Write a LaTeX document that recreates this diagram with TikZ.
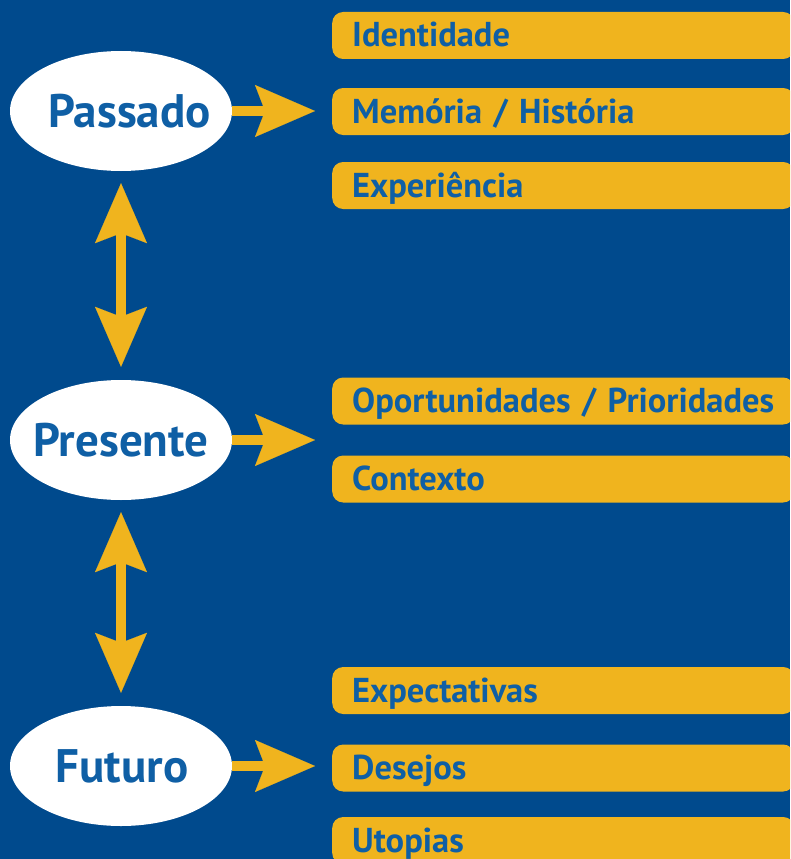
\documentclass[tikz,border=0pt]{standalone}
\usepackage{fontspec}
\setmainfont{PT Sans}
\usetikzlibrary{shapes.geometric,arrows.meta}
\definecolor{bgblue}{RGB}{0,74,141}
\definecolor{gold}{RGB}{240,180,30}
\definecolor{inkblue}{RGB}{15,95,165}
\newcommand\stagetext[2][0pt]{\makebox[0pt]{\hspace*{#1}#2}}

\begin{document}
\begin{tikzpicture}
        [
        x=1pt, y=-1pt,
        time/.style={ellipse, fill=white, text=inkblue, minimum width=222pt, minimum height=120pt, inner sep=0pt,
                font=\fontsize{47}{52}\selectfont\bfseries, text height=32pt, text depth=0pt},
        item/.style={rectangle, rounded corners=11pt, fill=gold, text=inkblue, anchor=west,
                minimum height=47pt, inner xsep=20pt, inner ysep=0pt, text width=422pt, align=left,
                font=\fontsize{34.5}{38}\selectfont\bfseries, text height=23pt, text depth=0pt},
        flow/.style={draw=gold, line width=10pt, shorten >=17pt,
                -{Stealth[length=60pt, width=52pt, inset=10pt, line width=0.1pt]}},
        twoway/.style={draw=gold, line width=10pt, shorten <=12pt, shorten >=13pt,
                {Stealth[length=60pt, width=52pt, inset=10pt, line width=0.1pt]}-{Stealth[length=60pt, width=52pt, inset=10pt, line width=0.1pt]}},
        ]
                \useasboundingbox (0,0) rectangle (790,859);
                \clip (0,0) rectangle (790,859);
                \fill[bgblue] (0,0) rectangle (790,859);

                % times
                \node[time] (pas) at (121,111) {\stagetext[17pt]{Passado}};
                \node[time] (pre) at (121,440) {\stagetext{Presente}};
                \node[time] (fut) at (121,766) {\stagetext[2pt]{Futuro}};

                % items
                \node[item] (ide) at (332, 35.5) {Identidade};
                \node[item] (mem) at (332,111.5) {Memória / História};
                \node[item] (exp) at (332,185.5) {Experiência};
                \node[item] (opo) at (332,401) {Oportunidades / Prioridades};
                \node[item] (con) at (332,479) {Contexto};
                \node[item] (ept) at (332,690.5) {Expectativas};
                \node[item] (des) at (332,768) {Desejos};
                \node[item] (uto) at (332,840.5) {Utopias};

                % arrows
                \foreach \from/\to in {pas/mem,pre/opo,fut/des} \draw[flow] (\from.east) -- (\from.east -| \to.west);
                \foreach \from/\to in {pas/pre,pre/fut} \draw[twoway] (\from.south) -- (\to.north);
        \end{tikzpicture}
\end{document}
